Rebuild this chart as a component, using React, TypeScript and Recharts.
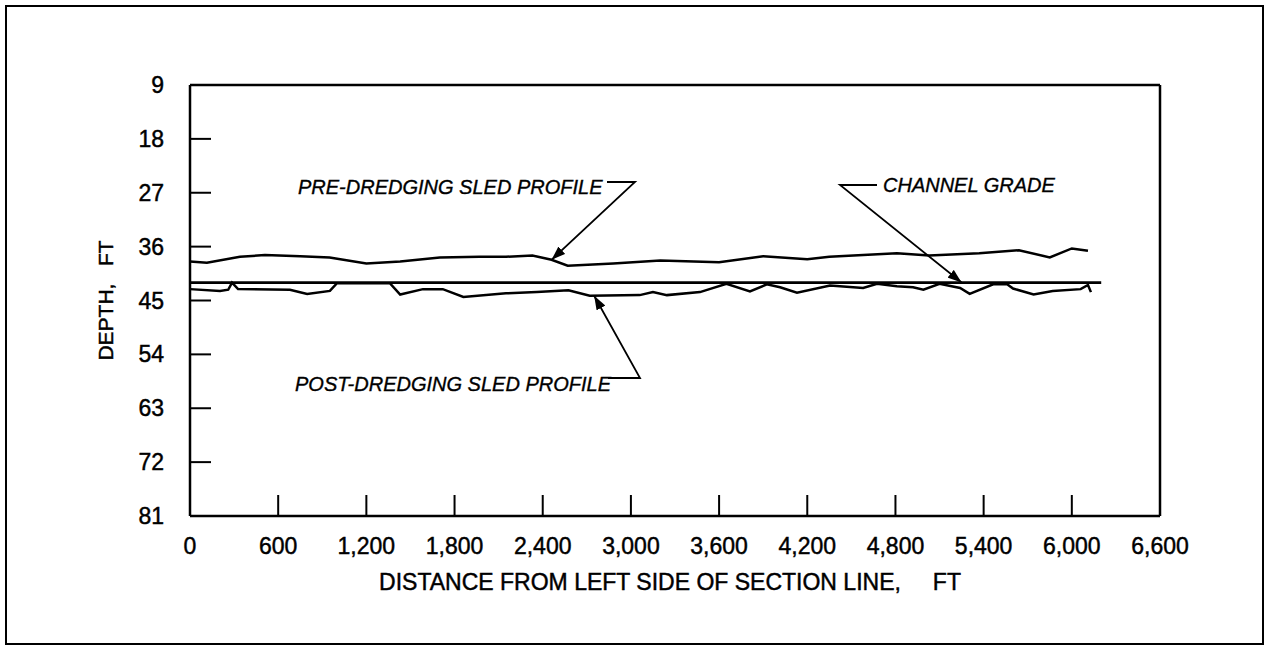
import React from "react";
import { LineChart, Line, XAxis, YAxis } from "recharts";

// axis ticks
const xTicks = [0, 600, 1200, 1800, 2400, 3000, 3600, 4200, 4800, 5400, 6000, 6600];
const yTicks = [9, 18, 27, 36, 45, 54, 63, 72, 81];

// pre-dredging sled profile (distance ft, depth ft)
const preDistance = [0, 115, 340, 510, 750, 950, 1200, 1430, 1700, 1970, 2150, 2330, 2460, 2570, 2880, 3200, 3600, 3900, 4200, 4350, 4810, 5030, 5370, 5640, 5850, 6000, 6110];
const preDepth = [38.5, 38.7, 37.7, 37.4, 37.6, 37.8, 38.8, 38.5, 37.8, 37.7, 37.7, 37.5, 38.2, 39.2, 38.8, 38.3, 38.6, 37.6, 38.1, 37.7, 37.1, 37.5, 37.1, 36.6, 37.8, 36.3, 36.7];

// post-dredging sled profile
const postDistance = [0, 204, 260, 286, 327, 680, 797, 952, 1000, 1360, 1430, 1585, 1720, 1860, 2150, 2360, 2575, 2720, 3060, 3150, 3245, 3470, 3650, 3810, 3925, 4015, 4130, 4355, 4580, 4675, 4810, 4920, 4990, 5100, 5240, 5305, 5465, 5560, 5600, 5740, 5870, 6060, 6110, 6130];
const postDepth = [43.1, 43.4, 43.2, 42.0, 43.1, 43.2, 43.9, 43.4, 42.1, 42.1, 44.0, 43.1, 43.1, 44.4, 43.8, 43.6, 43.3, 44.2, 44.1, 43.6, 44.1, 43.6, 42.2, 43.5, 42.3, 42.8, 43.7, 42.5, 42.9, 42.2, 42.6, 42.8, 43.2, 42.2, 42.9, 43.9, 42.3, 42.3, 43.0, 44.0, 43.4, 43.1, 42.4, 43.6];

// channel grade
const gradeDistance = [0, 6200];
const gradeDepth = [42, 42];

const toRows = (xs: number[], ys: number[]) => xs.map((ft, i) => ({ ft, depth: ys[i] }));
const preData = toRows(preDistance, preDepth);
const postData = toRows(postDistance, postDepth);
const gradeData = toRows(gradeDistance, gradeDepth);

const W = 1265;
const H = 649;
const PLOT = { left: 190, top: 85, right: 1160, bottom: 516 };
const FONT = '"Liberation Sans", Arial, Helvetica, sans-serif';
const TICK_LEN = 21;

// same mapping as the chart, for the annotation leaders
const sx = (ft: number) => PLOT.left + (ft / 6600) * (PLOT.right - PLOT.left);
const sy = (d: number) => PLOT.top + ((d - 9) / 72) * (PLOT.bottom - PLOT.top);

const fmt = (v: number) => v.toLocaleString("en-US");

// scanned print looks a bit heavier than plain regular
const inkText = { fill: "#000", stroke: "#000", strokeWidth: 0.45, fontFamily: FONT };

const BottomTick = (props: any) => {
  const { x, y, payload } = props;
  const v = payload.value;
  return (
    <g>
      {v > 0 && v < 6600 && (
        <line x1={x} x2={x} y1={y} y2={y - TICK_LEN} stroke="#000" strokeWidth={2} />
      )}
      <text x={x} y={y + 38} textAnchor="middle" fontSize={23} {...inkText}>
        {fmt(v)}
      </text>
    </g>
  );
};

const TopTick = (props: any) => {
  const { x, y, payload } = props;
  const v = payload.value;
  if (v <= 0 || v >= 6600) return <g />;
  return <line x1={x} x2={x} y1={y} y2={y + TICK_LEN} stroke="#000" strokeWidth={2} />;
};

const LeftTick = (props: any) => {
  const { x, y, payload } = props;
  const v = payload.value;
  return (
    <g>
      {v > 9 && v < 81 && (
        <line x1={x} x2={x + TICK_LEN} y1={y} y2={y} stroke="#000" strokeWidth={2} />
      )}
      <text x={x - 26} y={y + 8} textAnchor="end" fontSize={23} {...inkText}>
        {v}
      </text>
    </g>
  );
};

const RightTick = (props: any) => {
  const { x, y, payload } = props;
  const v = payload.value;
  if (v <= 9 || v >= 81) return <g />;
  return <line x1={x} x2={x - TICK_LEN} y1={y} y2={y} stroke="#000" strokeWidth={2} />;
};

const Leader = ({ pts }: { pts: number[][] }) => (
  <polyline
    points={pts.map((p) => p.join(",")).join(" ")}
    fill="none"
    stroke="#000"
    strokeWidth={1.8}
    markerEnd="url(#arrow)"
  />
);

const noteStyle = { ...inkText, strokeWidth: 0.35, fontStyle: "italic" as const, fontSize: 20 };

export default function App() {
  const axisLine = { stroke: "#000", strokeWidth: 2.5 };
  return (
    <div style={{ position: "absolute", left: 0, top: 0, width: W, height: H, background: "#fff" }}>
      <div
        style={{
          position: "absolute",
          left: 5,
          top: 5,
          width: 1255,
          height: 636,
          border: "2px solid #000",
        }}
      />
      <div style={{ position: "absolute", left: 0, top: 0 }}>
        <LineChart
          width={W}
          height={H}
          margin={{ top: PLOT.top - 2, left: PLOT.left - 100, right: W - PLOT.right - 2, bottom: H - PLOT.bottom - 100 }}
        >
          <XAxis
            xAxisId="b"
            dataKey="ft"
            type="number"
            domain={[0, 6600]}
            ticks={xTicks}
            height={100}
            axisLine={axisLine}
            tickLine={false}
            tickSize={0}
            tickMargin={0}
            interval={0}
            tick={<BottomTick />}
            label={{
              content: (p: any) => {
                const vb = p.viewBox;
                return (
                  <text
                    x={vb.x + vb.width / 2 - 5}
                    y={vb.y + 74}
                    textAnchor="middle"
                    fontSize={23}
                    {...inkText}
                    style={{ whiteSpace: "pre" }}
                  >
                    {"DISTANCE FROM LEFT SIDE OF SECTION LINE,     FT"}
                  </text>
                );
              },
            }}
          />
          <XAxis
            xAxisId="t"
            orientation="top"
            type="number"
            domain={[0, 6600]}
            ticks={xTicks}
            height={2}
            axisLine={axisLine}
            tickLine={false}
            tickSize={0}
            tickMargin={0}
            interval={0}
            tick={<TopTick />}
          />
          <YAxis
            yAxisId="l"
            type="number"
            reversed
            domain={[9, 81]}
            ticks={yTicks}
            width={100}
            axisLine={axisLine}
            tickLine={false}
            tickSize={0}
            tickMargin={0}
            interval={0}
            tick={<LeftTick />}
            label={{
              content: (p: any) => {
                const vb = p.viewBox;
                const cx = vb.x + vb.width - 85;
                const cy = vb.y + vb.height / 2;
                return (
                  <text
                    x={cx}
                    y={cy}
                    transform={`rotate(-90 ${cx} ${cy})`}
                    textAnchor="middle"
                    dominantBaseline="central"
                    fontSize={21}
                    {...inkText}
                    style={{ whiteSpace: "pre" }}
                  >
                    {"DEPTH,   FT"}
                  </text>
                );
              },
            }}
          />
          <YAxis
            yAxisId="r"
            orientation="right"
            type="number"
            reversed
            domain={[9, 81]}
            ticks={yTicks}
            width={2}
            axisLine={axisLine}
            tickLine={false}
            tickSize={0}
            tickMargin={0}
            interval={0}
            tick={<RightTick />}
          />
          <Line
            xAxisId="b"
            yAxisId="l"
            data={preData}
            dataKey="depth"
            type="linear"
            stroke="#000"
            strokeWidth={2.5}
            dot={false}
            isAnimationActive={false}
          />
          <Line
            xAxisId="b"
            yAxisId="l"
            data={postData}
            dataKey="depth"
            type="linear"
            stroke="#000"
            strokeWidth={2.5}
            dot={false}
            isAnimationActive={false}
          />
          <Line
            xAxisId="b"
            yAxisId="l"
            data={gradeData}
            dataKey="depth"
            type="linear"
            stroke="#000"
            strokeWidth={2.8}
            dot={false}
            isAnimationActive={false}
          />
        </LineChart>
      </div>
      <svg
        width={W}
        height={H}
        style={{ position: "absolute", left: 0, top: 0, pointerEvents: "none" }}
      >
        <defs>
          <marker
            id="arrow"
            viewBox="0 0 14 10"
            refX={14}
            refY={5}
            markerWidth={14}
            markerHeight={10}
            markerUnits="userSpaceOnUse"
            orient="auto"
          >
            <path d="M0,0 L14,5 L0,10 z" fill="#000" />
          </marker>
        </defs>
        <text x={298} y={194} {...noteStyle}>PRE-DREDGING SLED PROFILE</text>
        <Leader pts={[[607, 182], [635, 182], [sx(2460), sy(38.2)]]} />
        <text x={883} y={192} {...noteStyle}>CHANNEL GRADE</text>
        <Leader pts={[[877, 185], [840, 185], [sx(5250), sy(42)]]} />
        <text x={295} y={391} {...noteStyle}>POST-DREDGING SLED PROFILE</text>
        <Leader pts={[[608, 378], [640, 378], [sx(2750), sy(44.2)]]} />
      </svg>
    </div>
  );
}
